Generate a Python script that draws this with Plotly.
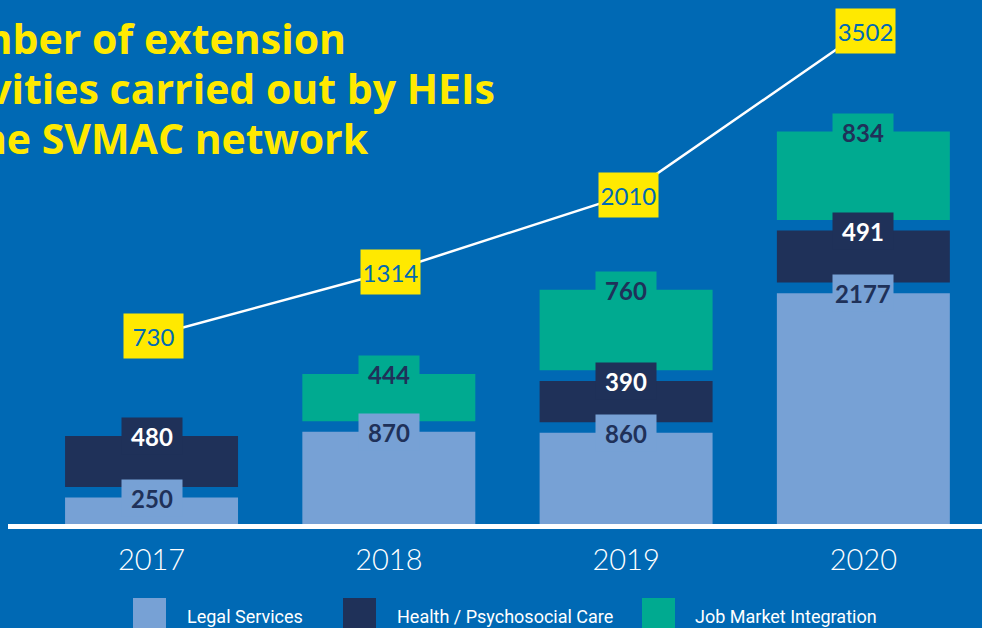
import plotly.graph_objects as go

# data
years = ['2017', '2018', '2019', '2020']
legal = [250, 870, 860, 2177]
health = [480, None, 390, 491]
jobs = [None, 444, 760, 834]
totals = [730, 1314, 2010, 3502]

series_names = ['Legal Services', 'Health / Psychosocial Care', 'Job Market Integration']
title_lines = ['Number of extension', 'activities carried out by HEIs', 'in the SVMAC network']

BG = '#0069b4'
LIGHT = '#77a1d5'
NAVY = '#1f3159'
TEAL = '#00aa90'
YELLOW = '#ffe900'
GAP = 100  # empty space between stacked segments (data units)

fig = go.Figure()

styles = [(legal, LIGHT, NAVY), (health, NAVY, 'white'), (jobs, TEAL, NAVY)]
tops = [0] * len(years)
annotations = []
for name, (vals, color, txtcolor) in zip(series_names, styles):
    bases, ys = [], []
    for i, v in enumerate(vals):
        if v is None:
            bases.append(0)
            ys.append(None)
            continue
        b = tops[i] + (GAP if tops[i] > 0 else 0)
        bases.append(b)
        ys.append(v)
        tops[i] = b + v
        # value label sitting on top of the segment (x given as category index)
        annotations.append(dict(x=i, y=b + v, xref='x', yref='y', text='<b>%d</b>' % v,
                                showarrow=False, bgcolor=color, width=58, height=34,
                                font=dict(family='Lato', size=24, color=txtcolor, weight=900),
                                xanchor='center', yanchor='middle'))
    fig.add_trace(go.Bar(x=years, y=ys, base=bases, name=name, width=0.729,
                         marker=dict(color=color, line=dict(width=0)), showlegend=False,
                         hoverinfo='skip'))

# totals line on its own axis
fig.add_trace(go.Scatter(x=years, y=totals, yaxis='y2', mode='lines',
                         line=dict(color='white', width=2.5), showlegend=False))
for i, t in enumerate(totals):
    annotations.append(dict(x=i, y=t, xref='x', yref='y2', text=str(t), showarrow=False,
                            bgcolor=YELLOW, width=57, height=42,
                            font=dict(family='Lato', size=24, color=BG),
                            xanchor='center', yanchor='middle', xshift=2))

# title (cut off on the left in the original), one annotation per line
for k, line in enumerate(title_lines):
    annotations.append(dict(xref='paper', yref='paper', x=(-90 - 8) / 974, y=1,
                            xanchor='left', yanchor='top', align='left', showarrow=False,
                            yshift=-8 - 50 * k, text='<b>%s</b>' % line,
                            font=dict(family='Open Sans', size=41, color=YELLOW)))

# legend made of swatches + labels
shapes = []
leg_sw = [133, 343, 642]
leg_tx = [185, 395, 693]
for name, (vals, color, _), sx, tx in zip(series_names, styles, leg_sw, leg_tx):
    shapes.append(dict(type='rect', xref='paper', yref='paper', x0=(sx - 8) / 974, x1=(sx + 33 - 8) / 974,
                       y0=(524 - 598) / 524, y1=-0.3, fillcolor=color, line=dict(width=0), layer='above'))
    annotations.append(dict(xref='paper', yref='paper', x=(tx - 8) / 974, y=(524 - 616) / 524,
                            xanchor='left', yanchor='middle', showarrow=False, text=name,
                            font=dict(family='Liberation Sans Narrow, Roboto', size=18, color='white')))

fig.update_layout(
    width=982, height=628,
    paper_bgcolor=BG, plot_bgcolor=BG,
    margin=dict(l=8, r=0, t=0, b=104),
    barmode='overlay',
    xaxis=dict(range=[-0.605, 3.5], showline=True, linecolor='white', linewidth=5,
               showgrid=False, zeroline=False, ticks='', ticklabelstandoff=6,
               tickfont=dict(family='Lato', size=29, color='white', weight=300)),
    yaxis=dict(range=[0, 4943], visible=False, fixedrange=True),
    yaxis2=dict(range=[-978, 3782], overlaying='y', visible=False),
    annotations=annotations,
    shapes=shapes,
)

fig.write_html("out.html", config={'displayModeBar': False},
               post_script="document.body.style.margin='0';")
